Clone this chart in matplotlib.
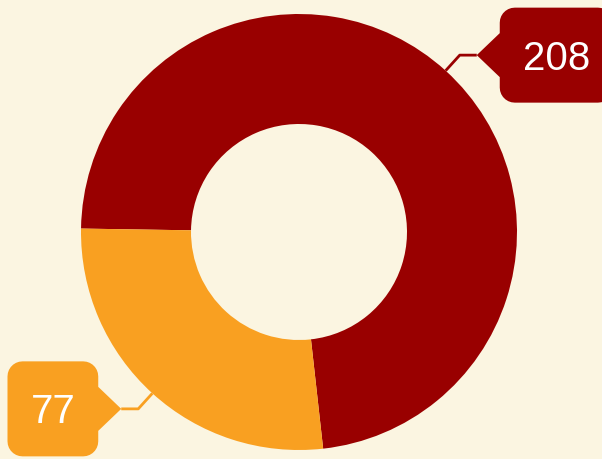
import numpy as np
import matplotlib
matplotlib.use("Agg")
import matplotlib.pyplot as plt
from matplotlib.path import Path
from matplotlib.patches import PathPatch

# slice values and colours
values = [208, 77]
labels = ["208", "77"]
colors = ["#990000", "#F9A021"]
background = "#FBF5E1"

W, H = 602, 459
cx, cy = 299, H - 232
outer_r = 218
ring_w = 110

fig = plt.figure(figsize=(W / 100, H / 100), dpi=100)
fig.patch.set_facecolor(background)
ax = fig.add_axes([0, 0, 1, 1])
ax.set_facecolor(background)

wedges, _ = ax.pie(values, colors=colors, startangle=179.1, counterclock=False,
                   radius=outer_r, center=(cx, cy), frame=True,
                   wedgeprops=dict(width=ring_w, linewidth=0))
ax.set_xlim(0, W)
ax.set_ylim(0, H)
ax.set_aspect("equal")
ax.axis("off")


def callout(xc, yc, w, h, tip_x, side, rad=15, half=22):
    """Rounded box centred on (xc, yc) with a triangular pointer to tip_x."""
    x0, x1 = xc - w / 2, xc + w / 2
    y0, y1 = yc - h / 2, yc + h / 2
    pts = []

    def arc(cx_, cy_, a0, a1):
        for t in np.linspace(np.radians(a0), np.radians(a1), 8):
            pts.append((cx_ + rad * np.cos(t), cy_ + rad * np.sin(t)))

    # go counter-clockwise starting at bottom-left corner
    arc(x0 + rad, y0 + rad, 180, 270)
    arc(x1 - rad, y0 + rad, 270, 360)
    if side == "right":
        pts += [(x1, yc - half), (tip_x, yc), (x1, yc + half)]
    arc(x1 - rad, y1 - rad, 0, 90)
    arc(x0 + rad, y1 - rad, 90, 180)
    if side == "left":
        pts += [(x0, yc + half), (tip_x, yc), (x0, yc - half)]
    pts.append(pts[0])
    codes = [Path.MOVETO] + [Path.LINETO] * (len(pts) - 2) + [Path.CLOSEPOLY]
    return Path(pts, codes)


fig.canvas.draw()
renderer = fig.canvas.get_renderer()

for wedge, text, col in zip(wedges, labels, colors):
    mid = np.radians((wedge.theta1 + wedge.theta2) / 2)
    ex, ey = cx + outer_r * np.cos(mid), cy + outer_r * np.sin(mid)
    bx, by = cx + (outer_r + 21) * np.cos(mid), cy + (outer_r + 21) * np.sin(mid)
    right = np.cos(mid) > 0
    tx = bx + 17 if right else bx - 17
    ax.plot([ex, bx, tx], [ey, by, by], color=col, lw=2, solid_capstyle="butt")

    t = ax.text(0, 0, text, fontsize=29, family="Liberation Sans",
                color="white", ha="center", va="baseline", zorder=5)
    tw = t.get_window_extent(renderer).width
    bw, bh = tw + 46, 95
    xc = tx + 23 + bw / 2 if right else tx - 23 - bw / 2
    t.set_position((xc, by - 14.5))
    path = callout(xc, by, bw, bh, tx, "left" if right else "right")
    ax.add_patch(PathPatch(path, facecolor=col, edgecolor="none", zorder=4))

fig.savefig("out.png", dpi=100, facecolor=background)
